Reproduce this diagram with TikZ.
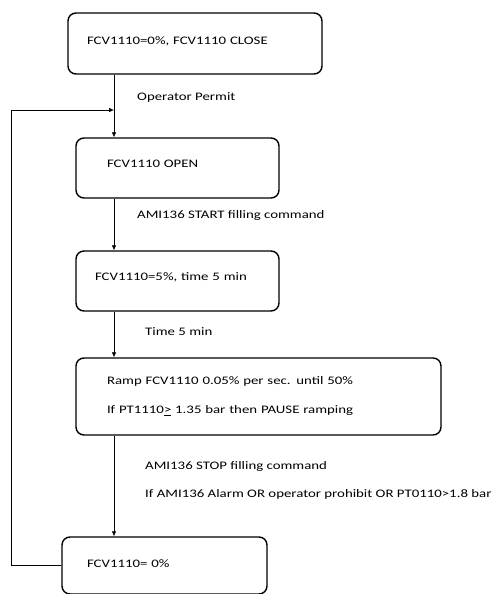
\documentclass[tikz,border=0pt]{standalone}
\usepackage{fontspec}
\newfontfamily\flowfont[FakeStretch=1.29]{Carlito}
\usetikzlibrary{arrows.meta}

\tikzset{
	stepbox/.style={rectangle, rounded corners=8pt, draw=black, line width=1.4pt, align=left, inner ysep=2pt, font=\flowfont\fontsize{11.5}{29}\selectfont},
	flowline/.style={draw=black, line width=0.6pt},
	flowarrow/.style={flowline, -{Latex[length=5pt,width=4.5pt]}},
	cond/.style={anchor=west, inner sep=0pt, align=left, font=\flowfont\fontsize{11.5}{28}\selectfont}
}

\begin{document}
\begin{tikzpicture}[x=1pt, y=-1pt]
	\useasboundingbox (0,0) rectangle (499,594);

	\node[stepbox, minimum width=254pt, minimum height=61pt, text width=216pt, inner xsep=19pt, text depth=5pt](closeBox) at (195,43.5){FCV1110=0\%, FCV1110 CLOSE};
	\node[stepbox, minimum width=203pt, minimum height=60pt, text width=141pt, inner xsep=31pt, text depth=8pt](openBox)  at (177.5,168){FCV1110 OPEN};
	\node[stepbox, minimum width=203pt, minimum height=60pt, text width=165pt, inner xsep=19pt, text depth=9pt](fiveBox)  at (177.5,281){FCV1110=5\%, time 5 min};
	\node[stepbox, minimum width=365pt, minimum height=77pt, text width=303pt, inner xsep=31pt](rampBox)  at (258.5,396.5){Ramp FCV1110 0.05\% per sec. until 50\%\\ If PT1110\underline{>} 1.35 bar then PAUSE ramping};
	\node[stepbox, minimum width=205pt, minimum height=57pt, text width=155pt, inner xsep=25pt, text depth=4pt](zeroBox)  at (164.5,565.5){FCV1110= 0\%};

	% trunk of the flow and return point
	\coordinate (trunk) at (114,0);
	\coordinate (merge) at (114,110);
	\coordinate (back)  at (11,0);

	\node[cond](permitLbl) at (137,97){Operator Permit};
	\node[cond](startLbl)  at (137,215){AMI136 START filling command};
	\node[cond](timeLbl)   at (145,332){Time 5 min};
	\node[cond](stopLbl)   at (145,480){AMI136 STOP filling command\\ If AMI136 Alarm OR operator prohibit OR PT0110>1.8 bar};

	\draw[flowarrow] (closeBox.south -| trunk) -- (openBox.north -| trunk);
	\draw[flowarrow] (openBox.south -| trunk)  -- (fiveBox.north -| trunk);
	\draw[flowarrow] (fiveBox.south -| trunk)  -- (rampBox.north -| trunk);
	\draw[flowarrow] (rampBox.south -| trunk)  -- (zeroBox.north -| trunk);
	\draw[flowarrow] (zeroBox.west) -- (zeroBox.west -| back) |- (merge);
\end{tikzpicture}
\end{document}
